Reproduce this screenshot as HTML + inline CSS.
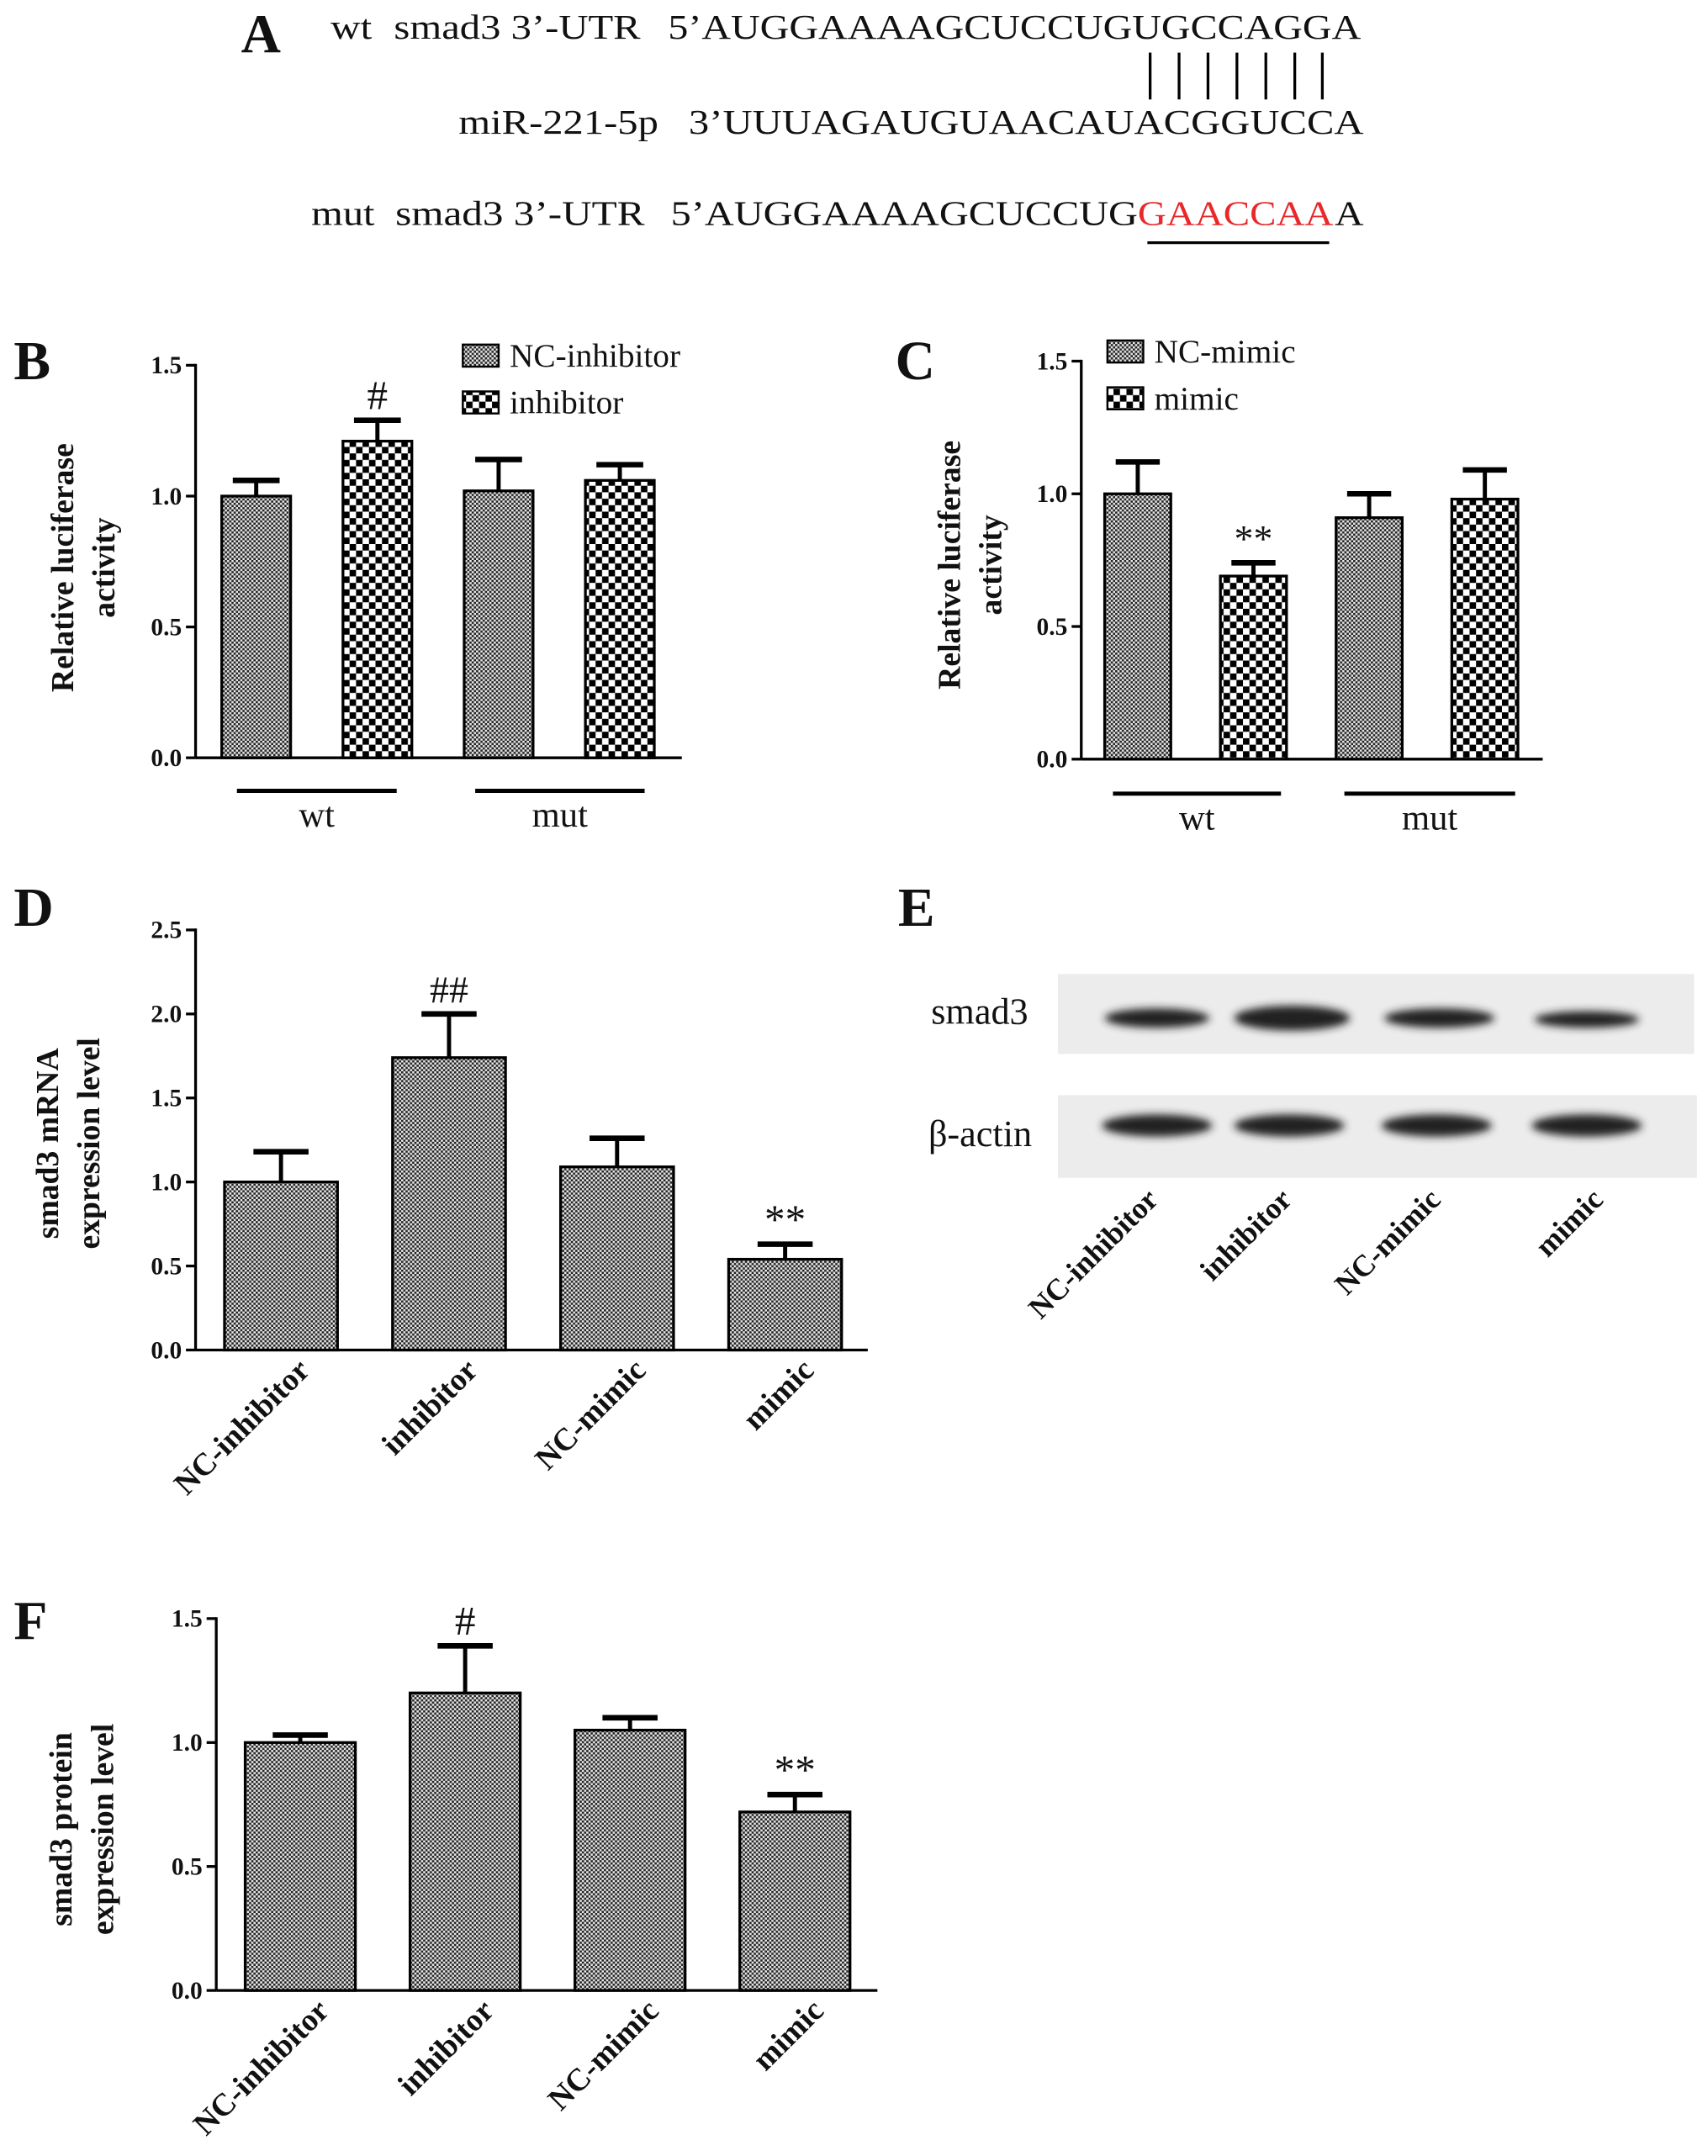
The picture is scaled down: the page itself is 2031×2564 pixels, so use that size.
<!DOCTYPE html>
<html><head><meta charset="utf-8"><style>
html,body{margin:0;padding:0;background:#fff;}
svg{display:block;}
text{font-family:"Liberation Serif",serif;fill:#111;}
</style></head><body>
<svg id="fig" width="2031" height="2564" viewBox="0 0 1240 1565" xmlns="http://www.w3.org/2000/svg">
<defs>
<pattern id="fine" width="3.2" height="3.2" patternUnits="userSpaceOnUse">
<rect width="3.2" height="3.2" fill="#e8e8e8"/><rect width="1.6" height="1.6" fill="#222"/><rect x="1.6" y="1.6" width="1.6" height="1.6" fill="#222"/></pattern>
<pattern id="coarse" width="9.4" height="9.4" patternUnits="userSpaceOnUse">
<rect width="9.4" height="9.4" fill="#fff"/><rect width="4.7" height="4.7" fill="#000"/><rect x="4.7" y="4.7" width="4.7" height="4.7" fill="#000"/></pattern>
<filter id="blur"><feGaussianBlur stdDeviation="3"/></filter>
</defs>
<!-- Panel A -->
<g font-size="25">
<text x="175" y="38" font-size="40" font-weight="bold">A</text>
<text x="240" y="28" textLength="30" lengthAdjust="spacingAndGlyphs">wt</text>
<text x="286" y="28" textLength="179" lengthAdjust="spacingAndGlyphs">smad3 3’-UTR</text>
<text x="485" y="28" textLength="503" lengthAdjust="spacingAndGlyphs">5’AUGGAAAAGCUCCUGUGCCAGGA</text>
<g stroke="#000" stroke-width="2">
<line x1="835" y1="38" x2="835" y2="72"/><line x1="856" y1="38" x2="856" y2="72"/><line x1="877" y1="38" x2="877" y2="72"/><line x1="898" y1="38" x2="898" y2="72"/><line x1="919" y1="38" x2="919" y2="72"/><line x1="940" y1="38" x2="940" y2="72"/><line x1="960" y1="38" x2="960" y2="72"/></g>
<text x="333" y="97" textLength="145" lengthAdjust="spacingAndGlyphs">miR-221-5p</text>
<text x="500" y="97" textLength="490" lengthAdjust="spacingAndGlyphs">3’UUUAGAUGUAACAUACGGUCCA</text>
<text x="226" y="163" textLength="46" lengthAdjust="spacingAndGlyphs">mut</text>
<text x="287" y="163" textLength="181" lengthAdjust="spacingAndGlyphs">smad3 3’-UTR</text>
<text x="487" y="163" textLength="339" lengthAdjust="spacingAndGlyphs">5’AUGGAAAAGCUCCUG</text>
<text x="826" y="163" textLength="142" lengthAdjust="spacingAndGlyphs" style="fill:#e8282a">GAACCAA</text>
<text x="969" y="163" textLength="21" lengthAdjust="spacingAndGlyphs">A</text>
<line x1="833" y1="176" x2="965" y2="176" stroke="#000" stroke-width="2"/>
</g>
<text x="10" y="275" font-size="40" font-weight="bold">B</text>
<text x="650" y="275" font-size="40" font-weight="bold">C</text>
<text x="10" y="672" font-size="40" font-weight="bold">D</text>
<text x="652" y="672" font-size="40" font-weight="bold">E</text>
<text x="10" y="1190" font-size="40" font-weight="bold">F</text>
<!-- Panel E blot -->
<g>
<rect x="768" y="707" width="462" height="58" fill="#ececec"/>
<rect x="768" y="795" width="464" height="60" fill="#ececec"/>
<g filter="url(#blur)" fill="#222">
<ellipse cx="840" cy="739" rx="38" ry="7"/>
<ellipse cx="938" cy="739" rx="42" ry="9"/>
<ellipse cx="1045" cy="739" rx="40" ry="7"/>
<ellipse cx="1152" cy="740" rx="38" ry="6"/>
<ellipse cx="840" cy="817" rx="40" ry="8"/>
<ellipse cx="936" cy="817" rx="40" ry="8"/>
<ellipse cx="1043" cy="817" rx="40" ry="8"/>
<ellipse cx="1152" cy="817" rx="40" ry="8"/>
</g>
<text x="676" y="743" font-size="27">smad3</text>
<text x="674" y="832" font-size="27">β-actin</text>
<g font-size="22" font-weight="bold" text-anchor="end">
<text transform="translate(842,872) rotate(-45)">NC-inhibitor</text>
<text transform="translate(939,872) rotate(-45)">inhibitor</text>
<text transform="translate(1047,872) rotate(-45)">NC-mimic</text>
<text transform="translate(1165,872) rotate(-45)">mimic</text>
</g>
</g>
<g id="charts"></g>
</svg>
<script>
const bCats=["NC-inhibitor","inhibitor","NC-inhibitor","inhibitor"];
const bVals=[1.0,1.21,1.02,1.06];
const bErr=[0.06,0.08,0.12,0.06];
const cVals=[1.0,0.69,0.91,0.98];
const cErr=[0.12,0.05,0.09,0.11];
const dCats=["NC-inhibitor","inhibitor","NC-mimic","mimic"];
const dVals=[1.0,1.74,1.09,0.54];
const dErr=[0.18,0.26,0.17,0.09];
const fVals=[1.0,1.2,1.05,0.72];
const fErr=[0.03,0.19,0.05,0.07];
const bTicks=["0.0","0.5","1.0","1.5"];
const dTicks=["0.0","0.5","1.0","1.5","2.0","2.5"];

const NS="http://www.w3.org/2000/svg";
const root=document.getElementById('charts');
function mk(tag,attrs,parent){const e=document.createElementNS(NS,tag);for(const k in attrs)e.setAttribute(k,attrs[k]);(parent||root).appendChild(e);return e;}

function chart(o){
  const g=mk('g',{});
  
  
  const y=v=>o.y0-(v/o.max)*(o.y0-o.y1);
  const ax=mk('line',{x1:o.ax,y1:o.y1-1,x2:o.ax,y2:o.y0,stroke:'#000','stroke-width':2},g);
  
  
  const xa=mk('line',{x1:o.ax,y1:o.y0,x2:o.xEnd,y2:o.y0,stroke:'#000','stroke-width':2},g);
  
  
  o.ticks.forEach(t=>{
    const ty=y(parseFloat(t));
    mk('line',{x1:o.ax-7,y1:ty,x2:o.ax,y2:ty,stroke:'#000','stroke-width':2},g);
    const tx=mk('text',{x:o.ax-10,y:ty+6,'font-size':18,'font-weight':'bold','text-anchor':'end'},g);
    tx.textContent=t;
    
    
  });
  o.vals.forEach((v,i)=>{
    const x=o.x0+i*o.step, top=y(v), et=y(v+o.err[i]), cx=x+o.bw/2;
    mk('line',{x1:cx,y1:top,x2:cx,y2:et,stroke:'#000','stroke-width':3},g);
    mk('line',{x1:cx-o.cap,y1:et,x2:cx+o.cap,y2:et,stroke:'#000','stroke-width':4},g);
    const r=mk('rect',{x:x,y:top,width:o.bw,height:o.y0-top,fill:o.fill(i),stroke:'#000','stroke-width':2},g);
    
    
  });
  const yt=mk('text',{transform:`translate(${o.tx},${o.tcy}) rotate(-90)`,'font-size':23,'font-weight':'bold','text-anchor':'middle'},g);
  
  
  o.title.forEach((t,k)=>{const s=mk('tspan',{x:0,dy:k?30:0},yt);s.textContent=t;});
  if(o.rotLabels){
    o.cats.forEach((c,i)=>{
      const cx=o.x0+i*o.step+o.bw/2+22;
      const t=mk('text',{transform:`translate(${cx},${o.y0+16}) rotate(-45)`,'font-size':23,'font-weight':'bold','text-anchor':'end'},g);
      t.textContent=c;
      
      
    });
  }
  (o.marks||[]).forEach(m=>{
    const i=m[0];const cx=o.x0+i*o.step+o.bw/2;
    const t=mk('text',{x:cx,y:y(o.vals[i]+o.err[i])-8,'font-size':m[2]||30,'text-anchor':'middle'},g);
    t.textContent=m[1];
    
    
  });
  return g;
}

function groupLabels(g,lines){
  lines.forEach(l=>{
    mk('line',{x1:l[0],y1:l[2],x2:l[1],y2:l[2],stroke:'#000','stroke-width':3},g);
    const t=mk('text',{x:(l[0]+l[1])/2,y:l[2]+26,'font-size':26,'text-anchor':'middle'},g);
    t.textContent=l[3];
    
    
  });
}
function legend(g,x,y,items){
  items.forEach((it,k)=>{
    const r=mk('rect',{x:x,y:y+k*34,width:26,height:16,fill:it[1],stroke:'#000','stroke-width':1.5},g);
    
    
    const t=mk('text',{x:x+34,y:y+k*34+16,'font-size':24},g);
    t.textContent=it[0];
    
    
  });
}
const alt=i=>i%2?'url(#coarse)':'url(#fine)';
const gB=chart({name:'chart-b',vals:bVals,err:bErr,ticks:bTicks,max:1.5,y0:550,y1:265,ax:142,xEnd:495,x0:161,step:88,bw:50,cap:17,fill:alt,tx:53,tcy:412,title:['Relative luciferase','activity'],marks:[[1,'#',30]]});
groupLabels(gB,[[172,288,574,'wt'],[345,468,574,'mut']]);
legend(gB,336,250,[['NC-inhibitor','url(#fine)'],['inhibitor','url(#coarse)']]);
const gC=chart({name:'chart-c',vals:cVals,err:cErr,ticks:bTicks,max:1.5,y0:551,y1:262,ax:785,xEnd:1120,x0:802,step:84,bw:48,cap:16,fill:alt,tx:697,tcy:410,title:['Relative luciferase','activity'],marks:[[1,'**',28]]});
groupLabels(gC,[[808,930,576,'wt'],[976,1100,576,'mut']]);
legend(gC,804,247,[['NC-mimic','url(#fine)'],['mimic','url(#coarse)']]);
chart({name:'chart-d',vals:dVals,err:dErr,ticks:dTicks,max:2.5,y0:980,y1:675,ax:142,xEnd:630,x0:163,step:122,bw:82,cap:20,fill:()=>'url(#fine)',tx:42,tcy:830,title:['smad3 mRNA','expression level'],rotLabels:true,cats:dCats,marks:[[1,'##',28],[3,'**',30]]});
chart({name:'chart-f',vals:fVals,err:fErr,ticks:bTicks,max:1.5,y0:1445,y1:1175,ax:157,xEnd:637,x0:178,step:119.7,bw:80,cap:20,fill:()=>'url(#fine)',tx:52,tcy:1328,title:['smad3 protein','expression level'],rotLabels:true,cats:dCats,marks:[[1,'#',30],[3,'**',30]]});
</script>
</body></html>
